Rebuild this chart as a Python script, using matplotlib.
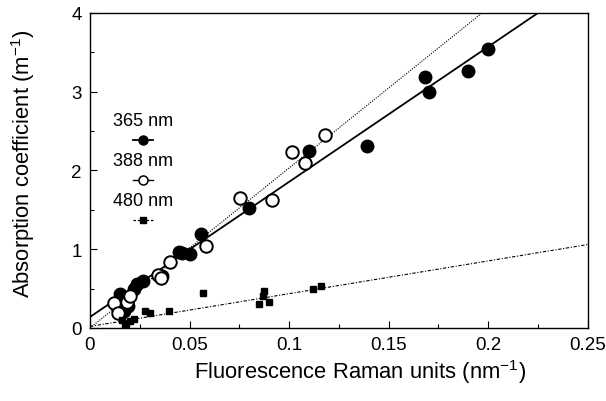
import matplotlib
matplotlib.use('Agg')
import matplotlib.pyplot as plt

plt.rcParams['font.family'] = ['Liberation Sans', 'DejaVu Sans']
plt.rcParams['mathtext.fontset'] = 'custom'
plt.rcParams['mathtext.rm'] = 'Liberation Sans'

# 365 nm (filled circles)
x365 = [0.2, 0.168, 0.170, 0.190, 0.139, 0.110, 0.080, 0.0557, 0.0447, 0.050,
        0.046, 0.036, 0.0268, 0.0234, 0.022, 0.015, 0.0167, 0.019, 0.017]
y365 = [3.54, 3.19, 3.00, 3.26, 2.31, 2.25, 1.52, 1.19, 0.97, 0.94,
        0.95, 0.66, 0.60, 0.56, 0.50, 0.43, 0.35, 0.28, 0.22]

# 388 nm (open circles)
x388 = [0.118, 0.108, 0.1014, 0.0915, 0.0753, 0.0582, 0.040, 0.034, 0.0355,
        0.012, 0.0184, 0.0142, 0.020]
y388 = [2.45, 2.09, 2.24, 1.62, 1.65, 1.045, 0.84, 0.67, 0.64,
        0.32, 0.33, 0.19, 0.40]

# 480 nm (squares)
x480 = [0.116, 0.112, 0.090, 0.0873, 0.087, 0.0848, 0.0566, 0.0397, 0.030,
        0.0276, 0.016, 0.018, 0.020, 0.022, 0.0175]
y480 = [0.53, 0.49, 0.33, 0.47, 0.41, 0.30, 0.45, 0.21, 0.19,
        0.22, 0.10, 0.05, 0.09, 0.12, 0.02]

# fit lines
fit_x = [0.0, 0.25]
fit365 = [0.14, 4.43]
fit388 = [0.0, 5.08]
fit480 = [0.02, 1.06]

labels = ['365 nm', '388 nm', '480 nm']

fig = plt.figure(figsize=(6.06, 4.02), dpi=100)
ax = fig.add_axes([0.1485, 0.1816, 0.8215, 0.7836])

ax.plot(fit_x, fit365, color='black', lw=1.3, solid_capstyle='butt')
ax.plot(fit_x, fit388, color='black', lw=0.8, ls=(0, (1, 1.2)))
ax.plot(fit_x, fit480, color='black', lw=0.8, ls=(0, (3, 1.5, 1, 1.5)))

ax.plot(x365, y365, 'o', color='black', ms=9, ls='none')
ax.plot(x388, y388, 'o', mfc='white', mec='black', mew=1.4, ms=9, ls='none')
ax.plot(x480, y480, 's', color='black', ms=4.5, ls='none')

# legend: label above its symbol
styles = [dict(marker='o', color='black', ms=6.5, ls='-', lw=1.3),
          dict(marker='o', mfc='white', mec='black', mew=1.1, color='black', ms=6.5, ls='-', lw=1.0),
          dict(marker='s', color='black', ms=4, ls=(0, (2, 1.5)), lw=0.9)]
for i, (lab, st) in enumerate(zip(labels, styles)):
    ty = 0.658 - i * 0.127
    ax.text(0.107, ty, lab, transform=ax.transAxes, ha='center', va='center', fontsize=13)
    ax.plot([0.087, 0.107, 0.127], [ty - 0.062] * 3, transform=ax.transAxes,
            markevery=[1], clip_on=False, **st)

ax.set_xlim(0, 0.25)
ax.set_ylim(0, 4)
ax.set_xticks([0, 0.05, 0.1, 0.15, 0.2, 0.25])
ax.set_xticklabels(['0', '0.05', '0.1', '0.15', '0.2', '0.25'])
ax.set_yticks([0, 1, 2, 3, 4])
ax.set_xticks([0.025, 0.075, 0.125, 0.175, 0.225], minor=True)
ax.set_yticks([0.5, 1.5, 2.5, 3.5], minor=True)
ax.tick_params(which='both', direction='in', labelsize=13.5, width=0.8)
ax.tick_params(which='major', length=5, pad=6)
ax.tick_params(which='minor', length=3)
for s in ax.spines.values():
    s.set_linewidth(1.0)

ax.set_xlabel('Fluorescence Raman units (nm$^{-1}$)', fontsize=15.8)
ax.set_ylabel('Absorption coefficient (m$^{-1}$)', fontsize=15.8)
ax.xaxis.set_label_coords(0.542, -0.093)
ax.yaxis.set_label_coords(-0.106, 0.524)

fig.savefig('out.png', dpi=100)
